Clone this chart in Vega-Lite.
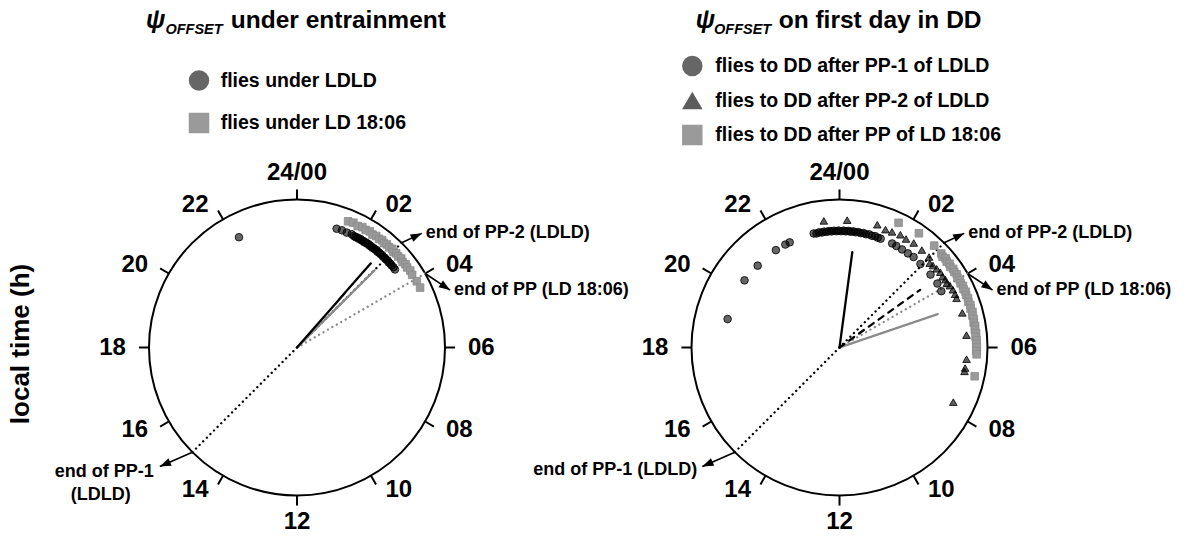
{
  "$schema": "https://vega.github.io/schema/vega-lite/v6.json",
  "padding": 0,
  "spacing": 0,
  "bounds": "flush",
  "config": {
    "view": {"stroke": null},
    "text": {"font": "Liberation Sans", "fontWeight": "bold", "color": "black"}
  },
  "datasets": {
    "clock": [
      {"h": 0, "lab": "24/00"}, {"h": 2, "lab": "02"}, {"h": 4, "lab": "04"}, {"h": 6, "lab": "06"},
      {"h": 8, "lab": "08"}, {"h": 10, "lab": "10"}, {"h": 12, "lab": "12"}, {"h": 14, "lab": "14"},
      {"h": 16, "lab": "16"}, {"h": 18, "lab": "18"}, {"h": 20, "lab": "20"}, {"h": 22, "lab": "22"}
    ],
    "arr": [
      {"name": "PP-2", "h0": 3, "h1": 3.17, "r1": 1.1425},
      {"name": "PP", "h0": 4, "h1": 4.63, "r1": 1.1044},
      {"name": "PP-1", "h0": 15, "h1": 15.27, "r1": 1.227}
    ],
    "vecL": [
      {"h": 3, "r": 1, "sty": "end LDLD"},
      {"h": 15, "r": 1, "sty": "end LDLD"},
      {"h": 4, "r": 1, "sty": "end LD 18:06"},
      {"h": 3.01, "r": 0.74, "sty": "mean LD 18:06"},
      {"h": 2.75, "r": 0.756, "sty": "mean LDLD"}
    ],
    "vecR": [
      {"h": 3, "r": 1, "sty": "end LDLD"},
      {"h": 15, "r": 1, "sty": "end LDLD"},
      {"h": 4, "r": 1, "sty": "end LD 18:06"},
      {"h": 4.75, "r": 0.70, "sty": "mean LD 18:06"},
      {"h": 3.63, "r": 0.67, "sty": "mean PP-2"},
      {"h": 0.51, "r": 0.65, "sty": "mean PP-1"}
    ],
    "ptsL": [
      {"g": "flies under LD 18:06", "h": 1.47, "r": 0.92}, {"g": "flies under LD 18:06", "h": 1.62, "r": 0.925},
      {"g": "flies under LD 18:06", "h": 1.77, "r": 0.918}, {"g": "flies under LD 18:06", "h": 1.9, "r": 0.925},
      {"g": "flies under LD 18:06", "h": 2.02, "r": 0.92}, {"g": "flies under LD 18:06", "h": 2.14, "r": 0.926},
      {"g": "flies under LD 18:06", "h": 2.25, "r": 0.918}, {"g": "flies under LD 18:06", "h": 2.36, "r": 0.924},
      {"g": "flies under LD 18:06", "h": 2.47, "r": 0.92}, {"g": "flies under LD 18:06", "h": 2.56, "r": 0.926},
      {"g": "flies under LD 18:06", "h": 2.65, "r": 0.918}, {"g": "flies under LD 18:06", "h": 2.74, "r": 0.924},
      {"g": "flies under LD 18:06", "h": 2.84, "r": 0.92}, {"g": "flies under LD 18:06", "h": 2.93, "r": 0.926},
      {"g": "flies under LD 18:06", "h": 3.02, "r": 0.918}, {"g": "flies under LD 18:06", "h": 3.1, "r": 0.924},
      {"g": "flies under LD 18:06", "h": 3.2, "r": 0.92}, {"g": "flies under LD 18:06", "h": 3.3, "r": 0.926},
      {"g": "flies under LD 18:06", "h": 3.4, "r": 0.918}, {"g": "flies under LD 18:06", "h": 3.5, "r": 0.924},
      {"g": "flies under LD 18:06", "h": 3.6, "r": 0.92}, {"g": "flies under LD 18:06", "h": 3.72, "r": 0.925},
      {"g": "flies under LD 18:06", "h": 3.85, "r": 0.92}, {"g": "flies under LD 18:06", "h": 4.07, "r": 0.925},
      {"g": "flies under LD 18:06", "h": 4.27, "r": 0.925},
      {"g": "flies under LDLD", "h": 22.15, "r": 0.842}, {"g": "flies under LDLD", "h": 1.23, "r": 0.846},
      {"g": "flies under LDLD", "h": 1.4, "r": 0.848}, {"g": "flies under LDLD", "h": 1.56, "r": 0.846},
      {"g": "flies under LDLD", "h": 1.72, "r": 0.85}, {"g": "flies under LDLD", "h": 1.8, "r": 0.846},
      {"g": "flies under LDLD", "h": 1.86, "r": 0.844}, {"g": "flies under LDLD", "h": 1.92, "r": 0.848},
      {"g": "flies under LDLD", "h": 1.97, "r": 0.845}, {"g": "flies under LDLD", "h": 2.02, "r": 0.849},
      {"g": "flies under LDLD", "h": 2.07, "r": 0.845}, {"g": "flies under LDLD", "h": 2.12, "r": 0.848},
      {"g": "flies under LDLD", "h": 2.17, "r": 0.844}, {"g": "flies under LDLD", "h": 2.22, "r": 0.849},
      {"g": "flies under LDLD", "h": 2.27, "r": 0.846}, {"g": "flies under LDLD", "h": 2.32, "r": 0.85},
      {"g": "flies under LDLD", "h": 2.37, "r": 0.845}, {"g": "flies under LDLD", "h": 2.42, "r": 0.848},
      {"g": "flies under LDLD", "h": 2.47, "r": 0.844}, {"g": "flies under LDLD", "h": 2.52, "r": 0.849},
      {"g": "flies under LDLD", "h": 2.57, "r": 0.846}, {"g": "flies under LDLD", "h": 2.62, "r": 0.85},
      {"g": "flies under LDLD", "h": 2.67, "r": 0.845}, {"g": "flies under LDLD", "h": 2.72, "r": 0.848},
      {"g": "flies under LDLD", "h": 2.78, "r": 0.846}, {"g": "flies under LDLD", "h": 2.84, "r": 0.849},
      {"g": "flies under LDLD", "h": 2.9, "r": 0.845}, {"g": "flies under LDLD", "h": 2.96, "r": 0.848},
      {"g": "flies under LDLD", "h": 3.02, "r": 0.846}, {"g": "flies under LDLD", "h": 3.08, "r": 0.849},
      {"g": "flies under LDLD", "h": 3.14, "r": 0.845}, {"g": "flies under LDLD", "h": 3.2, "r": 0.848},
      {"g": "flies under LDLD", "h": 3.27, "r": 0.846}, {"g": "flies under LDLD", "h": 3.35, "r": 0.848},
      {"g": "flies under LDLD", "h": 3.43, "r": 0.846}
    ],
    "ptsR": [
      {"g": "flies to DD after PP of LD 18:06", "h": 1.69, "r": 0.932}, {"g": "flies to DD after PP of LD 18:06", "h": 2.32, "r": 0.94},
      {"g": "flies to DD after PP of LD 18:06", "h": 2.86, "r": 0.94}, {"g": "flies to DD after PP of LD 18:06", "h": 3.15, "r": 0.936},
      {"g": "flies to DD after PP of LD 18:06", "h": 3.24, "r": 0.928}, {"g": "flies to DD after PP of LD 18:06", "h": 3.33, "r": 0.936},
      {"g": "flies to DD after PP of LD 18:06", "h": 3.42, "r": 0.928}, {"g": "flies to DD after PP of LD 18:06", "h": 3.51, "r": 0.934},
      {"g": "flies to DD after PP of LD 18:06", "h": 3.6, "r": 0.926}, {"g": "flies to DD after PP of LD 18:06", "h": 3.69, "r": 0.934},
      {"g": "flies to DD after PP of LD 18:06", "h": 3.78, "r": 0.928}, {"g": "flies to DD after PP of LD 18:06", "h": 3.87, "r": 0.934},
      {"g": "flies to DD after PP of LD 18:06", "h": 3.96, "r": 0.926}, {"g": "flies to DD after PP of LD 18:06", "h": 4.05, "r": 0.932},
      {"g": "flies to DD after PP of LD 18:06", "h": 4.14, "r": 0.926}, {"g": "flies to DD after PP of LD 18:06", "h": 4.23, "r": 0.932},
      {"g": "flies to DD after PP of LD 18:06", "h": 4.32, "r": 0.926}, {"g": "flies to DD after PP of LD 18:06", "h": 4.41, "r": 0.932},
      {"g": "flies to DD after PP of LD 18:06", "h": 4.5, "r": 0.926}, {"g": "flies to DD after PP of LD 18:06", "h": 4.6, "r": 0.93},
      {"g": "flies to DD after PP of LD 18:06", "h": 4.7, "r": 0.924}, {"g": "flies to DD after PP of LD 18:06", "h": 4.8, "r": 0.93},
      {"g": "flies to DD after PP of LD 18:06", "h": 4.9, "r": 0.924}, {"g": "flies to DD after PP of LD 18:06", "h": 5.0, "r": 0.93},
      {"g": "flies to DD after PP of LD 18:06", "h": 5.1, "r": 0.924}, {"g": "flies to DD after PP of LD 18:06", "h": 5.2, "r": 0.928},
      {"g": "flies to DD after PP of LD 18:06", "h": 5.3, "r": 0.922}, {"g": "flies to DD after PP of LD 18:06", "h": 5.4, "r": 0.928},
      {"g": "flies to DD after PP of LD 18:06", "h": 5.5, "r": 0.922}, {"g": "flies to DD after PP of LD 18:06", "h": 5.6, "r": 0.928},
      {"g": "flies to DD after PP of LD 18:06", "h": 5.7, "r": 0.922}, {"g": "flies to DD after PP of LD 18:06", "h": 5.8, "r": 0.928},
      {"g": "flies to DD after PP of LD 18:06", "h": 5.9, "r": 0.924}, {"g": "flies to DD after PP of LD 18:06", "h": 6.0, "r": 0.928},
      {"g": "flies to DD after PP of LD 18:06", "h": 6.1, "r": 0.924}, {"g": "flies to DD after PP of LD 18:06", "h": 6.19, "r": 0.928},
      {"g": "flies to DD after PP of LD 18:06", "h": 6.8, "r": 0.934},
      {"g": "flies to DD after PP-2 of LDLD", "h": 23.53, "r": 0.862}, {"g": "flies to DD after PP-2 of LDLD", "h": 0.23, "r": 0.862},
      {"g": "flies to DD after PP-2 of LDLD", "h": 1.14, "r": 0.868}, {"g": "flies to DD after PP-2 of LDLD", "h": 1.42, "r": 0.855},
      {"g": "flies to DD after PP-2 of LDLD", "h": 1.63, "r": 0.858}, {"g": "flies to DD after PP-2 of LDLD", "h": 1.89, "r": 0.866},
      {"g": "flies to DD after PP-2 of LDLD", "h": 2.1, "r": 0.86}, {"g": "flies to DD after PP-2 of LDLD", "h": 2.36, "r": 0.866},
      {"g": "flies to DD after PP-2 of LDLD", "h": 2.68, "r": 0.862}, {"g": "flies to DD after PP-2 of LDLD", "h": 2.98, "r": 0.86},
      {"g": "flies to DD after PP-2 of LDLD", "h": 3.13, "r": 0.835}, {"g": "flies to DD after PP-2 of LDLD", "h": 3.25, "r": 0.84},
      {"g": "flies to DD after PP-2 of LDLD", "h": 3.4, "r": 0.845}, {"g": "flies to DD after PP-2 of LDLD", "h": 3.55, "r": 0.85},
      {"g": "flies to DD after PP-2 of LDLD", "h": 3.7, "r": 0.845}, {"g": "flies to DD after PP-2 of LDLD", "h": 3.82, "r": 0.85},
      {"g": "flies to DD after PP-2 of LDLD", "h": 3.94, "r": 0.845}, {"g": "flies to DD after PP-2 of LDLD", "h": 4.05, "r": 0.855},
      {"g": "flies to DD after PP-2 of LDLD", "h": 4.2, "r": 0.86}, {"g": "flies to DD after PP-2 of LDLD", "h": 4.35, "r": 0.86},
      {"g": "flies to DD after PP-2 of LDLD", "h": 4.48, "r": 0.858}, {"g": "flies to DD after PP-2 of LDLD", "h": 4.95, "r": 0.862},
      {"g": "flies to DD after PP-2 of LDLD", "h": 5.63, "r": 0.862}, {"g": "flies to DD after PP-2 of LDLD", "h": 6.35, "r": 0.862},
      {"g": "flies to DD after PP-2 of LDLD", "h": 6.62, "r": 0.86}, {"g": "flies to DD after PP-2 of LDLD", "h": 6.72, "r": 0.86},
      {"g": "flies to DD after PP-2 of LDLD", "h": 7.71, "r": 0.853},
      {"g": "flies to DD after PP-1 of LDLD", "h": 18.95, "r": 0.78}, {"g": "flies to DD after PP-1 of LDLD", "h": 20.35, "r": 0.786},
      {"g": "flies to DD after PP-1 of LDLD", "h": 21.0, "r": 0.782}, {"g": "flies to DD after PP-1 of LDLD", "h": 21.79, "r": 0.786},
      {"g": "flies to DD after PP-1 of LDLD", "h": 22.15, "r": 0.786}, {"g": "flies to DD after PP-1 of LDLD", "h": 22.31, "r": 0.786},
      {"g": "flies to DD after PP-1 of LDLD", "h": 23.15, "r": 0.79}, {"g": "flies to DD after PP-1 of LDLD", "h": 23.24, "r": 0.786},
      {"g": "flies to DD after PP-1 of LDLD", "h": 23.33, "r": 0.79}, {"g": "flies to DD after PP-1 of LDLD", "h": 23.42, "r": 0.786},
      {"g": "flies to DD after PP-1 of LDLD", "h": 23.5, "r": 0.79}, {"g": "flies to DD after PP-1 of LDLD", "h": 23.58, "r": 0.786},
      {"g": "flies to DD after PP-1 of LDLD", "h": 23.66, "r": 0.79}, {"g": "flies to DD after PP-1 of LDLD", "h": 23.74, "r": 0.786},
      {"g": "flies to DD after PP-1 of LDLD", "h": 23.82, "r": 0.79}, {"g": "flies to DD after PP-1 of LDLD", "h": 23.9, "r": 0.786},
      {"g": "flies to DD after PP-1 of LDLD", "h": 23.97, "r": 0.79}, {"g": "flies to DD after PP-1 of LDLD", "h": 0.05, "r": 0.786},
      {"g": "flies to DD after PP-1 of LDLD", "h": 0.13, "r": 0.79}, {"g": "flies to DD after PP-1 of LDLD", "h": 0.21, "r": 0.786},
      {"g": "flies to DD after PP-1 of LDLD", "h": 0.29, "r": 0.79}, {"g": "flies to DD after PP-1 of LDLD", "h": 0.37, "r": 0.786},
      {"g": "flies to DD after PP-1 of LDLD", "h": 0.45, "r": 0.79}, {"g": "flies to DD after PP-1 of LDLD", "h": 0.53, "r": 0.786},
      {"g": "flies to DD after PP-1 of LDLD", "h": 0.61, "r": 0.79}, {"g": "flies to DD after PP-1 of LDLD", "h": 0.7, "r": 0.786},
      {"g": "flies to DD after PP-1 of LDLD", "h": 0.79, "r": 0.79}, {"g": "flies to DD after PP-1 of LDLD", "h": 0.88, "r": 0.786},
      {"g": "flies to DD after PP-1 of LDLD", "h": 0.98, "r": 0.79}, {"g": "flies to DD after PP-1 of LDLD", "h": 1.08, "r": 0.786},
      {"g": "flies to DD after PP-1 of LDLD", "h": 1.18, "r": 0.79}, {"g": "flies to DD after PP-1 of LDLD", "h": 1.28, "r": 0.786},
      {"g": "flies to DD after PP-1 of LDLD", "h": 1.38, "r": 0.786}, {"g": "flies to DD after PP-1 of LDLD", "h": 1.79, "r": 0.788},
      {"g": "flies to DD after PP-1 of LDLD", "h": 1.95, "r": 0.786}, {"g": "flies to DD after PP-1 of LDLD", "h": 2.17, "r": 0.786},
      {"g": "flies to DD after PP-1 of LDLD", "h": 2.4, "r": 0.786}, {"g": "flies to DD after PP-1 of LDLD", "h": 2.62, "r": 0.79},
      {"g": "flies to DD after PP-1 of LDLD", "h": 2.94, "r": 0.786}, {"g": "flies to DD after PP-1 of LDLD", "h": 3.42, "r": 0.788},
      {"g": "flies to DD after PP-1 of LDLD", "h": 3.79, "r": 0.79}, {"g": "flies to DD after PP-1 of LDLD", "h": 4.07, "r": 0.786}
    ]
  },
  "resolve": {
    "scale": {"x": "independent", "y": "independent", "fill": "independent", "stroke": "independent", "shape": "independent", "strokeDash": "independent", "angle": "independent"}
  },
  "hconcat": [
    {
      "width": 597,
      "height": 538,
      "data": {"values": [{}]},
      "layer": [
        {
          "mark": {"type": "point", "shape": "circle", "size": 87616, "filled": false, "stroke": "black", "strokeWidth": 2, "opacity": 1},
          "encoding": {
            "x": {"datum": 0, "type": "quantitative", "scale": {"domain": [-2.006757, 2.027027], "nice": false, "zero": false}, "axis": null},
            "y": {"datum": 0, "type": "quantitative", "scale": {"domain": [-1.287162, 2.347973], "nice": false, "zero": false}, "axis": null}
          }
        },
        {
          "data": {"name": "clock"},
          "transform": [
            {"calculate": "sin(datum.h*PI/12)", "as": "ux"},
            {"calculate": "cos(datum.h*PI/12)", "as": "uy"},
            {"calculate": "1.068*datum.ux", "as": "ox"},
            {"calculate": "1.068*datum.uy", "as": "oy"}
          ],
          "mark": {"type": "rule", "stroke": "black", "strokeWidth": 2},
          "encoding": {
            "x": {"field": "ux", "type": "quantitative", "scale": {"domain": [-2.006757, 2.027027], "nice": false, "zero": false}, "axis": null},
            "y": {"field": "uy", "type": "quantitative", "scale": {"domain": [-1.287162, 2.347973], "nice": false, "zero": false}, "axis": null},
            "x2": {"field": "ox"},
            "y2": {"field": "oy"}
          }
        },
        {
          "data": {"name": "clock"},
          "transform": [
            {"filter": "datum.h > 0 && datum.h < 12"},
            {"calculate": "1.115*sin(datum.h*PI/12)", "as": "lx"},
            {"calculate": "1.115*cos(datum.h*PI/12)", "as": "ly"}
          ],
          "mark": {"type": "text", "fontSize": 24, "align": "left", "baseline": "middle", "dx": 6},
          "encoding": {
            "x": {"field": "lx", "type": "quantitative", "scale": {"domain": [-2.006757, 2.027027], "nice": false, "zero": false}, "axis": null},
            "y": {"field": "ly", "type": "quantitative", "scale": {"domain": [-1.287162, 2.347973], "nice": false, "zero": false}, "axis": null},
            "text": {"field": "lab"}
          }
        },
        {
          "data": {"name": "clock"},
          "transform": [
            {"filter": "datum.h > 12"},
            {"calculate": "1.115*sin(datum.h*PI/12)", "as": "lx"},
            {"calculate": "1.115*cos(datum.h*PI/12)", "as": "ly"}
          ],
          "mark": {"type": "text", "fontSize": 24, "align": "right", "baseline": "middle", "dx": -6},
          "encoding": {
            "x": {"field": "lx", "type": "quantitative", "scale": {"domain": [-2.006757, 2.027027], "nice": false, "zero": false}, "axis": null},
            "y": {"field": "ly", "type": "quantitative", "scale": {"domain": [-1.287162, 2.347973], "nice": false, "zero": false}, "axis": null},
            "text": {"field": "lab"}
          }
        },
        {
          "data": {"name": "clock"},
          "transform": [
            {"filter": "datum.h == 0 || datum.h == 12"},
            {"calculate": "1.18*sin(datum.h*PI/12)", "as": "lx"},
            {"calculate": "1.18*cos(datum.h*PI/12)", "as": "ly"}
          ],
          "mark": {"type": "text", "fontSize": 24, "align": "center", "baseline": "middle"},
          "encoding": {
            "x": {"field": "lx", "type": "quantitative", "scale": {"domain": [-2.006757, 2.027027], "nice": false, "zero": false}, "axis": null},
            "y": {"field": "ly", "type": "quantitative", "scale": {"domain": [-1.287162, 2.347973], "nice": false, "zero": false}, "axis": null},
            "text": {"field": "lab"}
          }
        },
        {
          "data": {"name": "vecL"},
          "transform": [
            {"calculate": "datum.r*sin(datum.h*PI/12)", "as": "px"},
            {"calculate": "datum.r*cos(datum.h*PI/12)", "as": "py"},
            {"calculate": "0", "as": "c0"}
          ],
          "mark": {"type": "rule", "strokeWidth": 2.3, "strokeCap": "round"},
          "encoding": {
            "x": {"field": "c0", "type": "quantitative", "scale": {"domain": [-2.006757, 2.027027], "nice": false, "zero": false}, "axis": null},
            "y": {"field": "c0", "type": "quantitative", "scale": {"domain": [-1.287162, 2.347973], "nice": false, "zero": false}, "axis": null},
            "x2": {"field": "px"},
            "y2": {"field": "py"},
            "stroke": {"field": "sty", "type": "nominal", "legend": null,
              "scale": {"domain": ["mean LDLD", "mean LD 18:06", "end LDLD", "end LD 18:06"], "range": ["black", "#8a8a8a", "black", "#8a8a8a"]}},
            "strokeDash": {"field": "sty", "type": "nominal", "legend": null,
              "scale": {"domain": ["mean LDLD", "mean LD 18:06", "end LDLD", "end LD 18:06"], "range": [[1, 0], [1, 0], [0.1, 5], [0.1, 5]]}}
          }
        },
        {
          "data": {"name": "ptsL"},
          "transform": [
            {"calculate": "datum.r*sin(datum.h*PI/12)", "as": "px"},
            {"calculate": "datum.r*cos(datum.h*PI/12)", "as": "py"}
          ],
          "mark": {"type": "point", "filled": true, "size": 58, "opacity": 1, "strokeWidth": 0.8},
          "encoding": {
            "x": {"field": "px", "type": "quantitative", "scale": {"domain": [-2.006757, 2.027027], "nice": false, "zero": false}, "axis": null},
            "y": {"field": "py", "type": "quantitative", "scale": {"domain": [-1.287162, 2.347973], "nice": false, "zero": false}, "axis": null},
            "fill": {"field": "g", "type": "nominal",
              "scale": {"domain": ["flies under LDLD", "flies under LD 18:06"], "range": ["rgba(0,0,0,0.6)", "#9a9a9a"]},
              "legend": {"title": null, "orient": "none", "legendX": 188, "legendY": 69.5, "symbolSize": 420, "symbolOpacity": 1, "symbolStrokeWidth": 1.2, "labelFont": "Liberation Sans", "labelFontSize": 19.5, "labelFontWeight": "bold", "labelColor": "black", "labelLimit": 400, "labelOffset": 10.7, "rowPadding": 16.5, "padding": 0}},
            "stroke": {"field": "g", "type": "nominal",
              "scale": {"domain": ["flies under LDLD", "flies under LD 18:06"], "range": ["rgba(0,0,0,0.35)", "#858585"]}},
            "shape": {"field": "g", "type": "nominal",
              "scale": {"domain": ["flies under LDLD", "flies under LD 18:06"], "range": ["circle", "square"]}}
          }
        },
        {
          "data": {"name": "arr"},
          "transform": [
            {"calculate": "sin(datum.h0*PI/12)", "as": "x0"},
            {"calculate": "cos(datum.h0*PI/12)", "as": "y0"},
            {"calculate": "datum.r1*sin(datum.h1*PI/12)", "as": "x1"},
            {"calculate": "datum.r1*cos(datum.h1*PI/12)", "as": "y1"}
          ],
          "mark": {"type": "rule", "stroke": "black", "strokeWidth": 1.6},
          "encoding": {
            "x": {"field": "x0", "type": "quantitative", "scale": {"domain": [-2.006757, 2.027027], "nice": false, "zero": false}, "axis": null},
            "y": {"field": "y0", "type": "quantitative", "scale": {"domain": [-1.287162, 2.347973], "nice": false, "zero": false}, "axis": null},
            "x2": {"field": "x1"},
            "y2": {"field": "y1"}
          }
        },
        {
          "data": {"name": "arr"},
          "transform": [
            {"calculate": "sin(datum.h0*PI/12)", "as": "x0"},
            {"calculate": "cos(datum.h0*PI/12)", "as": "y0"},
            {"calculate": "datum.r1*sin(datum.h1*PI/12)", "as": "x1"},
            {"calculate": "datum.r1*cos(datum.h1*PI/12)", "as": "y1"},
            {"calculate": "atan2(datum.x1 - datum.x0, datum.y1 - datum.y0)*180/PI", "as": "ang"}
          ],
          "mark": {"type": "point", "shape": "M0,0L-0.36,1L0.36,1Z", "size": 500, "filled": true, "fill": "black", "strokeWidth": 0, "opacity": 1},
          "encoding": {
            "x": {"field": "x1", "type": "quantitative", "scale": {"domain": [-2.006757, 2.027027], "nice": false, "zero": false}, "axis": null},
            "y": {"field": "y1", "type": "quantitative", "scale": {"domain": [-1.287162, 2.347973], "nice": false, "zero": false}, "axis": null},
            "angle": {"field": "ang", "type": "quantitative", "scale": {"domain": [-360, 360], "range": [-360, 360], "nice": false, "zero": false}}
          }
        },
        {
          "data": {"name": "arr"},
          "transform": [
            {"filter": "datum.name == 'PP-2'"},
            {"calculate": "datum.r1*sin(datum.h1*PI/12)", "as": "x1"},
            {"calculate": "datum.r1*cos(datum.h1*PI/12)", "as": "y1"}
          ],
          "mark": {"type": "text", "text": "end of PP-2 (LDLD)", "fontSize": 18, "align": "left", "baseline": "middle", "dx": 4},
          "encoding": {
            "x": {"field": "x1", "type": "quantitative", "scale": {"domain": [-2.006757, 2.027027], "nice": false, "zero": false}, "axis": null},
            "y": {"field": "y1", "type": "quantitative", "scale": {"domain": [-1.287162, 2.347973], "nice": false, "zero": false}, "axis": null}
          }
        },
        {
          "data": {"name": "arr"},
          "transform": [
            {"filter": "datum.name == 'PP'"},
            {"calculate": "datum.r1*sin(datum.h1*PI/12)", "as": "x1"},
            {"calculate": "datum.r1*cos(datum.h1*PI/12)", "as": "y1"}
          ],
          "mark": {"type": "text", "text": "end of PP (LD 18:06)", "fontSize": 18, "align": "left", "baseline": "middle", "dx": 4},
          "encoding": {
            "x": {"field": "x1", "type": "quantitative", "scale": {"domain": [-2.006757, 2.027027], "nice": false, "zero": false}, "axis": null},
            "y": {"field": "y1", "type": "quantitative", "scale": {"domain": [-1.287162, 2.347973], "nice": false, "zero": false}, "axis": null}
          }
        },
        {
          "data": {"name": "arr"},
          "transform": [
            {"filter": "datum.name == 'PP-1'"},
            {"calculate": "datum.r1*sin(datum.h1*PI/12)", "as": "x1"},
            {"calculate": "datum.r1*cos(datum.h1*PI/12)", "as": "y1"}
          ],
          "mark": {"type": "text", "text": "end of PP-1", "fontSize": 18, "align": "right", "baseline": "middle", "dx": -6, "dy": 5},
          "encoding": {
            "x": {"field": "x1", "type": "quantitative", "scale": {"domain": [-2.006757, 2.027027], "nice": false, "zero": false}, "axis": null},
            "y": {"field": "y1", "type": "quantitative", "scale": {"domain": [-1.287162, 2.347973], "nice": false, "zero": false}, "axis": null}
          }
        },
        {
          "data": {"name": "arr"},
          "transform": [
            {"filter": "datum.name == 'PP-1'"},
            {"calculate": "datum.r1*sin(datum.h1*PI/12)", "as": "x1"},
            {"calculate": "datum.r1*cos(datum.h1*PI/12)", "as": "y1"}
          ],
          "mark": {"type": "text", "text": "(LDLD)", "fontSize": 18, "align": "center", "baseline": "middle", "dx": -59, "dy": 28.5},
          "encoding": {
            "x": {"field": "x1", "type": "quantitative", "scale": {"domain": [-2.006757, 2.027027], "nice": false, "zero": false}, "axis": null},
            "y": {"field": "y1", "type": "quantitative", "scale": {"domain": [-1.287162, 2.347973], "nice": false, "zero": false}, "axis": null}
          }
        },
        {
          "mark": {"type": "text", "text": "ψ", "fontSize": 25, "fontStyle": "italic", "align": "center", "baseline": "alphabetic"},
          "encoding": {
            "x": {"datum": -0.9544, "type": "quantitative", "scale": {"domain": [-2.006757, 2.027027], "nice": false, "zero": false}, "axis": null},
            "y": {"datum": 2.157, "type": "quantitative", "scale": {"domain": [-1.287162, 2.347973], "nice": false, "zero": false}, "axis": null}
          }
        },
        {
          "mark": {"type": "text", "text": "OFFSET", "fontSize": 14.5, "fontStyle": "italic", "align": "left", "baseline": "alphabetic"},
          "encoding": {
            "x": {"datum": -0.8892, "type": "quantitative", "scale": {"domain": [-2.006757, 2.027027], "nice": false, "zero": false}, "axis": null},
            "y": {"datum": 2.12, "type": "quantitative", "scale": {"domain": [-1.287162, 2.347973], "nice": false, "zero": false}, "axis": null}
          }
        },
        {
          "mark": {"type": "text", "text": "under entrainment", "fontSize": 24.5, "align": "left", "baseline": "alphabetic"},
          "encoding": {
            "x": {"datum": -0.4473, "type": "quantitative", "scale": {"domain": [-2.006757, 2.027027], "nice": false, "zero": false}, "axis": null},
            "y": {"datum": 2.157, "type": "quantitative", "scale": {"domain": [-1.287162, 2.347973], "nice": false, "zero": false}, "axis": null}
          }
        },
        {
          "mark": {"type": "text", "text": "local time (h)", "fontSize": 26, "angle": 270, "align": "center", "baseline": "middle"},
          "encoding": {
            "x": {"datum": -1.8649, "type": "quantitative", "scale": {"domain": [-2.006757, 2.027027], "nice": false, "zero": false}, "axis": null},
            "y": {"datum": 0.0236, "type": "quantitative", "scale": {"domain": [-1.287162, 2.347973], "nice": false, "zero": false}, "axis": null}
          }
        }
      ]
    },
    {
      "width": 597,
      "height": 538,
      "data": {"values": [{}]},
      "layer": [
        {
          "mark": {"type": "point", "shape": "circle", "size": 87616, "filled": false, "stroke": "black", "strokeWidth": 2, "opacity": 1},
          "encoding": {
            "x": {"datum": 0, "type": "quantitative", "scale": {"domain": [-1.638514, 2.39527], "nice": false, "zero": false}, "axis": null},
            "y": {"datum": 0, "type": "quantitative", "scale": {"domain": [-1.287162, 2.347973], "nice": false, "zero": false}, "axis": null}
          }
        },
        {
          "data": {"name": "clock"},
          "transform": [
            {"calculate": "sin(datum.h*PI/12)", "as": "ux"},
            {"calculate": "cos(datum.h*PI/12)", "as": "uy"},
            {"calculate": "1.068*datum.ux", "as": "ox"},
            {"calculate": "1.068*datum.uy", "as": "oy"}
          ],
          "mark": {"type": "rule", "stroke": "black", "strokeWidth": 2},
          "encoding": {
            "x": {"field": "ux", "type": "quantitative", "scale": {"domain": [-1.638514, 2.39527], "nice": false, "zero": false}, "axis": null},
            "y": {"field": "uy", "type": "quantitative", "scale": {"domain": [-1.287162, 2.347973], "nice": false, "zero": false}, "axis": null},
            "x2": {"field": "ox"},
            "y2": {"field": "oy"}
          }
        },
        {
          "data": {"name": "clock"},
          "transform": [
            {"filter": "datum.h > 0 && datum.h < 12"},
            {"calculate": "1.115*sin(datum.h*PI/12)", "as": "lx"},
            {"calculate": "1.115*cos(datum.h*PI/12)", "as": "ly"}
          ],
          "mark": {"type": "text", "fontSize": 24, "align": "left", "baseline": "middle", "dx": 6},
          "encoding": {
            "x": {"field": "lx", "type": "quantitative", "scale": {"domain": [-1.638514, 2.39527], "nice": false, "zero": false}, "axis": null},
            "y": {"field": "ly", "type": "quantitative", "scale": {"domain": [-1.287162, 2.347973], "nice": false, "zero": false}, "axis": null},
            "text": {"field": "lab"}
          }
        },
        {
          "data": {"name": "clock"},
          "transform": [
            {"filter": "datum.h > 12"},
            {"calculate": "1.115*sin(datum.h*PI/12)", "as": "lx"},
            {"calculate": "1.115*cos(datum.h*PI/12)", "as": "ly"}
          ],
          "mark": {"type": "text", "fontSize": 24, "align": "right", "baseline": "middle", "dx": -6},
          "encoding": {
            "x": {"field": "lx", "type": "quantitative", "scale": {"domain": [-1.638514, 2.39527], "nice": false, "zero": false}, "axis": null},
            "y": {"field": "ly", "type": "quantitative", "scale": {"domain": [-1.287162, 2.347973], "nice": false, "zero": false}, "axis": null},
            "text": {"field": "lab"}
          }
        },
        {
          "data": {"name": "clock"},
          "transform": [
            {"filter": "datum.h == 0 || datum.h == 12"},
            {"calculate": "1.18*sin(datum.h*PI/12)", "as": "lx"},
            {"calculate": "1.18*cos(datum.h*PI/12)", "as": "ly"}
          ],
          "mark": {"type": "text", "fontSize": 24, "align": "center", "baseline": "middle"},
          "encoding": {
            "x": {"field": "lx", "type": "quantitative", "scale": {"domain": [-1.638514, 2.39527], "nice": false, "zero": false}, "axis": null},
            "y": {"field": "ly", "type": "quantitative", "scale": {"domain": [-1.287162, 2.347973], "nice": false, "zero": false}, "axis": null},
            "text": {"field": "lab"}
          }
        },
        {
          "data": {"name": "vecR"},
          "transform": [
            {"calculate": "datum.r*sin(datum.h*PI/12)", "as": "px"},
            {"calculate": "datum.r*cos(datum.h*PI/12)", "as": "py"},
            {"calculate": "0", "as": "c0"}
          ],
          "mark": {"type": "rule", "strokeWidth": 2.3, "strokeCap": "round"},
          "encoding": {
            "x": {"field": "c0", "type": "quantitative", "scale": {"domain": [-1.638514, 2.39527], "nice": false, "zero": false}, "axis": null},
            "y": {"field": "c0", "type": "quantitative", "scale": {"domain": [-1.287162, 2.347973], "nice": false, "zero": false}, "axis": null},
            "x2": {"field": "px"},
            "y2": {"field": "py"},
            "stroke": {"field": "sty", "type": "nominal", "legend": null,
              "scale": {"domain": ["mean PP-1", "mean PP-2", "mean LD 18:06", "end LDLD", "end LD 18:06"], "range": ["black", "black", "#8a8a8a", "black", "#8a8a8a"]}},
            "strokeDash": {"field": "sty", "type": "nominal", "legend": null,
              "scale": {"domain": ["mean PP-1", "mean PP-2", "mean LD 18:06", "end LDLD", "end LD 18:06"], "range": [[1, 0], [6, 6], [1, 0], [0.1, 5], [0.1, 5]]}}
          }
        },
        {
          "data": {"name": "ptsR"},
          "transform": [
            {"calculate": "datum.r*sin(datum.h*PI/12)", "as": "px"},
            {"calculate": "datum.r*cos(datum.h*PI/12)", "as": "py"}
          ],
          "mark": {"type": "point", "filled": true, "size": 58, "opacity": 1, "strokeWidth": 0.8},
          "encoding": {
            "x": {"field": "px", "type": "quantitative", "scale": {"domain": [-1.638514, 2.39527], "nice": false, "zero": false}, "axis": null},
            "y": {"field": "py", "type": "quantitative", "scale": {"domain": [-1.287162, 2.347973], "nice": false, "zero": false}, "axis": null},
            "fill": {"field": "g", "type": "nominal",
              "scale": {"domain": ["flies to DD after PP-1 of LDLD", "flies to DD after PP-2 of LDLD", "flies to DD after PP of LD 18:06"], "range": ["rgba(0,0,0,0.6)", "rgba(0,0,0,0.64)", "#9a9a9a"]},
              "legend": {"title": null, "orient": "none", "legendX": 84.3, "legendY": 55, "symbolSize": 420, "symbolOpacity": 1, "symbolStrokeWidth": 1.2, "labelFont": "Liberation Sans", "labelFontSize": 19.5, "labelFontWeight": "bold", "labelColor": "black", "labelLimit": 400, "labelOffset": 12, "rowPadding": 9.5, "padding": 0}},
            "stroke": {"field": "g", "type": "nominal",
              "scale": {"domain": ["flies to DD after PP-1 of LDLD", "flies to DD after PP-2 of LDLD", "flies to DD after PP of LD 18:06"], "range": ["rgba(0,0,0,0.35)", "rgba(0,0,0,0.35)", "#858585"]}},
            "shape": {"field": "g", "type": "nominal",
              "scale": {"domain": ["flies to DD after PP-1 of LDLD", "flies to DD after PP-2 of LDLD", "flies to DD after PP of LD 18:06"], "range": ["circle", "triangle-up", "square"]}}
          }
        },
        {
          "data": {"name": "arr"},
          "transform": [
            {"calculate": "sin(datum.h0*PI/12)", "as": "x0"},
            {"calculate": "cos(datum.h0*PI/12)", "as": "y0"},
            {"calculate": "datum.r1*sin(datum.h1*PI/12)", "as": "x1"},
            {"calculate": "datum.r1*cos(datum.h1*PI/12)", "as": "y1"}
          ],
          "mark": {"type": "rule", "stroke": "black", "strokeWidth": 1.6},
          "encoding": {
            "x": {"field": "x0", "type": "quantitative", "scale": {"domain": [-1.638514, 2.39527], "nice": false, "zero": false}, "axis": null},
            "y": {"field": "y0", "type": "quantitative", "scale": {"domain": [-1.287162, 2.347973], "nice": false, "zero": false}, "axis": null},
            "x2": {"field": "x1"},
            "y2": {"field": "y1"}
          }
        },
        {
          "data": {"name": "arr"},
          "transform": [
            {"calculate": "sin(datum.h0*PI/12)", "as": "x0"},
            {"calculate": "cos(datum.h0*PI/12)", "as": "y0"},
            {"calculate": "datum.r1*sin(datum.h1*PI/12)", "as": "x1"},
            {"calculate": "datum.r1*cos(datum.h1*PI/12)", "as": "y1"},
            {"calculate": "atan2(datum.x1 - datum.x0, datum.y1 - datum.y0)*180/PI", "as": "ang"}
          ],
          "mark": {"type": "point", "shape": "M0,0L-0.36,1L0.36,1Z", "size": 500, "filled": true, "fill": "black", "strokeWidth": 0, "opacity": 1},
          "encoding": {
            "x": {"field": "x1", "type": "quantitative", "scale": {"domain": [-1.638514, 2.39527], "nice": false, "zero": false}, "axis": null},
            "y": {"field": "y1", "type": "quantitative", "scale": {"domain": [-1.287162, 2.347973], "nice": false, "zero": false}, "axis": null},
            "angle": {"field": "ang", "type": "quantitative", "scale": {"domain": [-360, 360], "range": [-360, 360], "nice": false, "zero": false}}
          }
        },
        {
          "data": {"name": "arr"},
          "transform": [
            {"filter": "datum.name == 'PP-2'"},
            {"calculate": "datum.r1*sin(datum.h1*PI/12)", "as": "x1"},
            {"calculate": "datum.r1*cos(datum.h1*PI/12)", "as": "y1"}
          ],
          "mark": {"type": "text", "text": "end of PP-2 (LDLD)", "fontSize": 18, "align": "left", "baseline": "middle", "dx": 4},
          "encoding": {
            "x": {"field": "x1", "type": "quantitative", "scale": {"domain": [-1.638514, 2.39527], "nice": false, "zero": false}, "axis": null},
            "y": {"field": "y1", "type": "quantitative", "scale": {"domain": [-1.287162, 2.347973], "nice": false, "zero": false}, "axis": null}
          }
        },
        {
          "data": {"name": "arr"},
          "transform": [
            {"filter": "datum.name == 'PP'"},
            {"calculate": "datum.r1*sin(datum.h1*PI/12)", "as": "x1"},
            {"calculate": "datum.r1*cos(datum.h1*PI/12)", "as": "y1"}
          ],
          "mark": {"type": "text", "text": "end of PP (LD 18:06)", "fontSize": 18, "align": "left", "baseline": "middle", "dx": 4},
          "encoding": {
            "x": {"field": "x1", "type": "quantitative", "scale": {"domain": [-1.638514, 2.39527], "nice": false, "zero": false}, "axis": null},
            "y": {"field": "y1", "type": "quantitative", "scale": {"domain": [-1.287162, 2.347973], "nice": false, "zero": false}, "axis": null}
          }
        },
        {
          "data": {"name": "arr"},
          "transform": [
            {"filter": "datum.name == 'PP-1'"},
            {"calculate": "datum.r1*sin(datum.h1*PI/12)", "as": "x1"},
            {"calculate": "datum.r1*cos(datum.h1*PI/12)", "as": "y1"}
          ],
          "mark": {"type": "text", "text": "end of PP-1 (LDLD)", "fontSize": 18, "align": "right", "baseline": "middle", "dx": -5, "dy": 3},
          "encoding": {
            "x": {"field": "x1", "type": "quantitative", "scale": {"domain": [-1.638514, 2.39527], "nice": false, "zero": false}, "axis": null},
            "y": {"field": "y1", "type": "quantitative", "scale": {"domain": [-1.287162, 2.347973], "nice": false, "zero": false}, "axis": null}
          }
        },
        {
          "mark": {"type": "text", "text": "ψ", "fontSize": 25, "fontStyle": "italic", "align": "center", "baseline": "alphabetic"},
          "encoding": {
            "x": {"datum": -0.9054, "type": "quantitative", "scale": {"domain": [-1.638514, 2.39527], "nice": false, "zero": false}, "axis": null},
            "y": {"datum": 2.157, "type": "quantitative", "scale": {"domain": [-1.287162, 2.347973], "nice": false, "zero": false}, "axis": null}
          }
        },
        {
          "mark": {"type": "text", "text": "OFFSET", "fontSize": 14.5, "fontStyle": "italic", "align": "left", "baseline": "alphabetic"},
          "encoding": {
            "x": {"datum": -0.848, "type": "quantitative", "scale": {"domain": [-1.638514, 2.39527], "nice": false, "zero": false}, "axis": null},
            "y": {"datum": 2.12, "type": "quantitative", "scale": {"domain": [-1.287162, 2.347973], "nice": false, "zero": false}, "axis": null}
          }
        },
        {
          "mark": {"type": "text", "text": "on first day in DD", "fontSize": 24.5, "align": "left", "baseline": "alphabetic"},
          "encoding": {
            "x": {"datum": -0.4108, "type": "quantitative", "scale": {"domain": [-1.638514, 2.39527], "nice": false, "zero": false}, "axis": null},
            "y": {"datum": 2.157, "type": "quantitative", "scale": {"domain": [-1.287162, 2.347973], "nice": false, "zero": false}, "axis": null}
          }
        }
      ]
    }
  ]
}
